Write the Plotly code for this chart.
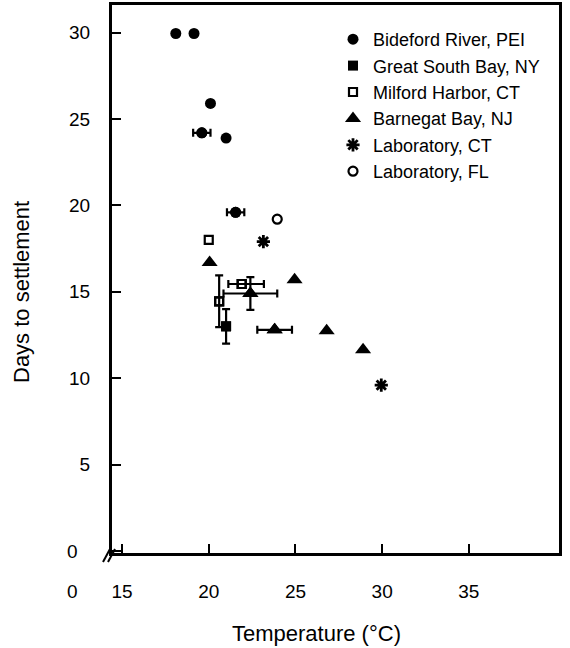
import plotly.graph_objects as go

# ---- data ----
bideford_x = [18.1, 19.15, 20.1, 21.0, 19.6, 21.55]
bideford_y = [29.95, 29.95, 25.9, 23.9, 24.2, 19.6]
bideford_xerr = [0, 0, 0, 0, 0.5, 0.5]

gsb_x = [21.0]
gsb_y = [13.0]
gsb_yerr = [1.0]

milford_x = [20.0, 21.9, 20.6]
milford_y = [18.0, 15.45, 14.45]
milford_xerr_plus = [0, 1.28, 0]
milford_xerr_minus = [0, 0.77, 0]
milford_yerr = [0, 0, 1.5]

barnegat_x = [20.05, 22.4, 24.95, 23.8, 26.8, 28.9]
barnegat_y = [16.7, 14.9, 15.7, 12.8, 12.75, 11.65]
barnegat_xerr = [0, 1.55, 0, 1.0, 0, 0]
barnegat_yerr = [0, 0.95, 0, 0, 0, 0]

labct_x = [23.15, 29.95]
labct_y = [17.9, 9.6]

labfl_x = [23.95]
labfl_y = [19.2]

x_ticks = [15, 20, 25, 30, 35]
y_ticks = [0, 5, 10, 15, 20, 25, 30]
y_ticktext = ["", "5", "10", "15", "20", "25", "30"]

FONT = "Liberation Sans, Arial, Helvetica, sans-serif"
BLACK = "black"

fig = go.Figure()

def err_trace(x, y, marker, xp=None, xm=None, yp=None):
    idx = [i for i in range(len(x)) if (xp and xp[i] > 0) or (yp and yp[i] > 0)]
    if not idx:
        return
    kw = {}
    if xp:
        kw["error_x"] = dict(type="data", symmetric=xm is None,
                             array=[xp[i] for i in idx],
                             arrayminus=[xm[i] for i in idx] if xm else None,
                             color=BLACK, thickness=2.2, width=4)
    if yp:
        kw["error_y"] = dict(type="data", array=[yp[i] for i in idx],
                             color=BLACK, thickness=2.2, width=4)
    fig.add_trace(go.Scatter(x=[x[i] for i in idx], y=[y[i] for i in idx],
                             mode="markers", marker=marker, showlegend=False,
                             hoverinfo="skip", **kw))

m_bid = dict(symbol="circle", size=11, color=BLACK)
m_gsb = dict(symbol="square", size=10, color=BLACK)
m_mil = dict(symbol="square-open", size=8, color=BLACK, line=dict(width=2.2, color=BLACK))
m_bar = dict(symbol="triangle-up", size=14, color=BLACK)
m_lct = dict(symbol="asterisk-open", size=11, color=BLACK, line=dict(width=2.8, color=BLACK))
m_lfl = dict(symbol="circle-open", size=9, color=BLACK, line=dict(width=2.2, color=BLACK))

err_trace(bideford_x, bideford_y, m_bid, xp=bideford_xerr)
err_trace(gsb_x, gsb_y, m_gsb, yp=gsb_yerr)
err_trace(milford_x, milford_y, m_mil, xp=milford_xerr_plus, xm=milford_xerr_minus)
err_trace(milford_x, milford_y, m_mil, yp=milford_yerr)
err_trace(barnegat_x, barnegat_y, m_bar, xp=barnegat_xerr, yp=barnegat_yerr)

fig.add_trace(go.Scatter(x=bideford_x, y=bideford_y, mode="markers", marker=m_bid, name="Bideford River, PEI"))
fig.add_trace(go.Scatter(x=gsb_x, y=gsb_y, mode="markers", marker=m_gsb, name="Great South Bay, NY"))
fig.add_trace(go.Scatter(x=milford_x, y=milford_y, mode="markers", marker=m_mil, name="Milford Harbor, CT"))
fig.add_trace(go.Scatter(x=barnegat_x, y=barnegat_y, mode="markers", marker=m_bar, name="Barnegat Bay, NJ"))
fig.add_trace(go.Scatter(x=labct_x, y=labct_y, mode="markers", marker=m_lct, name="Laboratory, CT"))
fig.add_trace(go.Scatter(x=labfl_x, y=labfl_y, mode="markers", marker=m_lfl, name="Laboratory, FL"))

L, R, T, B = 112, 11, 5, 95
W, H = 570, 648
pw, ph = W - L - R, H - T - B

def px_x(p):
    return (p - L) / pw

def px_y(p):
    return (H - B - p) / ph

axis_common = dict(showline=True, linecolor=BLACK, linewidth=3, mirror=True,
                   ticks="inside", ticklen=9, tickwidth=2, tickcolor=BLACK,
                   showgrid=False, zeroline=False, automargin=False,
                   tickfont=dict(family=FONT, size=19, color=BLACK))

fig.update_layout(
    width=W, height=H,
    margin=dict(l=L, r=R, t=T, b=B),
    paper_bgcolor="white", plot_bgcolor="white",
    font=dict(family=FONT, color=BLACK),
    xaxis=dict(range=[14.42, 40.2], tickvals=x_ticks, ticklabelstandoff=19, **axis_common),
    yaxis=dict(range=[-0.12, 31.6], tickvals=y_ticks, ticktext=y_ticktext,
               ticklabelstandoff=15, **axis_common),
    legend=dict(x=px_x(333), y=px_y(21), xanchor="left", yanchor="top",
                bgcolor="rgba(0,0,0,0)", borderwidth=0,
                font=dict(family=FONT, size=18, color=BLACK),
                itemsizing="trace"),
    showlegend=True,
)

# axis titles
fig.add_annotation(x=px_x(316), y=px_y(633), xref="paper", yref="paper",
                   text="Temperature (°C)", showarrow=False, xanchor="center", yanchor="middle",
                   font=dict(family=FONT, size=22, color=BLACK))
fig.add_annotation(x=px_x(22), y=px_y(292), xref="paper", yref="paper",
                   text="Days to settlement", showarrow=False, textangle=-90,
                   xanchor="center", yanchor="middle",
                   font=dict(family=FONT, size=22, color=BLACK))

# "0" labels at the broken corner
fig.add_annotation(x=px_x(72), y=px_y(591), xref="paper", yref="paper",
                   text="0", showarrow=False, xanchor="center", yanchor="middle",
                   font=dict(family=FONT, size=19, color=BLACK))
fig.add_annotation(x=px_x(72), y=px_y(551), xref="paper", yref="paper",
                   text="0", showarrow=False, xanchor="center", yanchor="middle",
                   font=dict(family=FONT, size=19, color=BLACK))

# axis break marks
for dx in (0, 5):
    fig.add_shape(type="line", xref="paper", yref="paper",
                  x0=px_x(103 + dx), y0=px_y(562), x1=px_x(110 + dx), y1=px_y(549),
                  line=dict(color=BLACK, width=2))

fig.write_html("out.html")
